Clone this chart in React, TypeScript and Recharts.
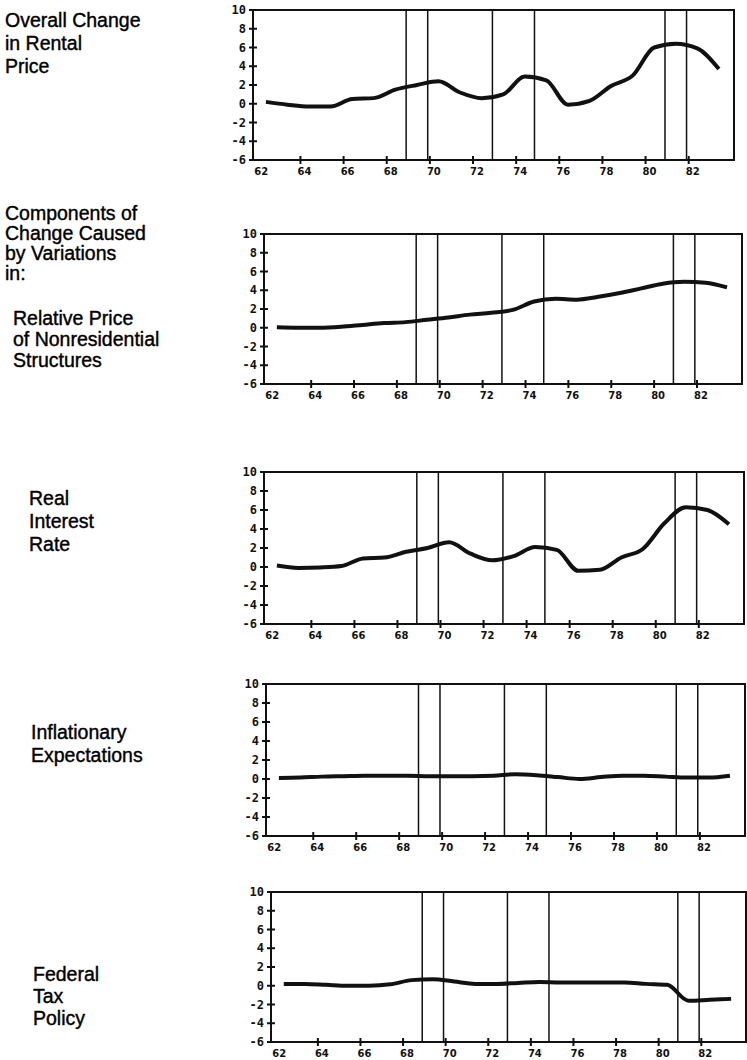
import React from 'react';
import { LineChart, Line, XAxis, YAxis, ReferenceLine, ReferenceArea } from 'recharts';

// mid-year points, 1962-1983
const years = [62.4, 63.4, 64.4, 65.4, 66.4, 67.4, 68.4, 69.4, 70.4, 71.4, 72.4, 73.4, 74.4, 75.4, 76.4, 77.4, 78.4, 79.4, 80.4, 81.4, 82.4, 83.4];

const overallChange = [0.2, -0.1, -0.3, -0.3, 0.5, 0.6, 1.5, 2.0, 2.4, 1.2, 0.6, 1.0, 2.9, 2.5, -0.1, 0.3, 1.9, 3.0, 6.0, 6.4, 5.9, 3.7];
const relativePrice = [0.05, 0.0, 0.0, 0.1, 0.3, 0.5, 0.6, 0.85, 1.1, 1.4, 1.6, 1.9, 2.8, 3.1, 3.0, 3.3, 3.7, 4.2, 4.7, 4.9, 4.8, 4.3];
const realInterest = [0.15, -0.1, -0.05, 0.1, 0.9, 1.0, 1.6, 2.0, 2.6, 1.4, 0.7, 1.15, 2.1, 1.8, -0.4, -0.3, 1.0, 1.9, 4.6, 6.3, 6.0, 4.5];
const inflationExpect = [0.1, 0.15, 0.25, 0.3, 0.35, 0.35, 0.35, 0.3, 0.3, 0.3, 0.35, 0.5, 0.4, 0.2, 0.0, 0.2, 0.35, 0.35, 0.25, 0.15, 0.15, 0.35];
const federalTax = [0.2, 0.2, 0.1, 0.0, 0.0, 0.15, 0.6, 0.7, 0.45, 0.2, 0.2, 0.3, 0.4, 0.35, 0.35, 0.35, 0.35, 0.2, 0.1, -1.6, -1.5, -1.4];

// vertical recession markers
const recessionLines = [68.9, 69.9, 72.9, 74.85, 80.9, 81.9];

const xTicks = [62, 64, 66, 68, 70, 72, 74, 76, 78, 80, 82];
const yTicks = [-6, -4, -2, 0, 2, 4, 6, 8, 10];

const X_DOMAIN: [number, number] = [61.8, 84.1];
const INK = '#111';

if (typeof document !== 'undefined') document.body.style.margin = '0';

const YTick = (props: any) => {
  const { x, y, payload } = props;
  // x = axis - 6
  return (
    <g>
      <line x1={x + 2} x2={x + 10} y1={y} y2={y} stroke={INK} strokeWidth={2} />
      <text x={x - 1} y={y} dy={4} textAnchor="end" fontFamily="DejaVu Sans Mono" fontWeight="bold" fontSize={12} fill={INK}>
        {payload.value}
      </text>
    </g>
  );
};

const XTick = (props: any) => {
  const { x, y, payload } = props;
  // y = axis + 4
  return (
    <g>
      {payload.value !== 62 && <line x1={x} x2={x} y1={y - 8} y2={y} stroke={INK} strokeWidth={2} />}
      <text x={x + 4} y={y} dy={11} textAnchor="middle" fontFamily="DejaVu Sans" fontWeight="bold" fontSize={10} fill={INK}>
        {payload.value}
      </text>
    </g>
  );
};

type Panel = { values: number[]; top: number; bottom: number; left: number; right: number };

const panels: Panel[] = [
  { values: overallChange, top: 10, bottom: 160, left: 253, right: 734 },
  { values: relativePrice, top: 234, bottom: 384, left: 264, right: 742 },
  { values: realInterest, top: 472, bottom: 624, left: 264, right: 744 },
  { values: inflationExpect, top: 684, bottom: 836, left: 266, right: 745 },
  { values: federalTax, top: 892, bottom: 1042, left: 271, right: 746 },
];

const labels = [
  { lines: ['Overall Change', 'in Rental', 'Price'], x: 5, y: 20, gap: 23 },
  { lines: ['Components of', 'Change Caused', 'by Variations', 'in:'], x: 5, y: 213, gap: 20 },
  { lines: ['Relative Price', 'of Nonresidential', 'Structures'], x: 13, y: 318, gap: 21 },
  { lines: ['Real', 'Interest', 'Rate'], x: 29, y: 498, gap: 23 },
  { lines: ['Inflationary', 'Expectations'], x: 31, y: 732, gap: 23 },
  { lines: ['Federal', 'Tax', 'Policy'], x: 33, y: 974, gap: 22 },
];

function PanelChart({ p }: { p: Panel }) {
  const data = years.map((year, i) => ({ year, v: p.values[i] }));
  const h = p.bottom - p.top + 6 + 22;
  return (
    <div style={{ position: 'absolute', left: 0, top: p.top - 6 }}>
      <LineChart width={747} height={h} data={data} margin={{ top: 6, right: 747 - p.right, bottom: 0, left: p.left - 40 }}>
        <XAxis
          type="number"
          dataKey="year"
          domain={X_DOMAIN}
          ticks={xTicks}
          interval={0}
          allowDataOverflow
          axisLine={false}
          tickLine={false}
          tickSize={0}
          tickMargin={4}
          height={22}
          tick={<XTick />}
        />
        <YAxis
          domain={[-6, 10]}
          ticks={yTicks}
          interval={0}
          allowDataOverflow
          axisLine={false}
          tickLine={false}
          tickSize={0}
          tickMargin={6}
          width={40}
          tick={<YTick />}
        />
        <ReferenceArea x1={X_DOMAIN[0]} x2={X_DOMAIN[1]} y1={-6} y2={10} fill="none" stroke={INK} strokeWidth={2} />
        {recessionLines.map((r) => (
          <ReferenceLine key={r} x={r} stroke={INK} strokeWidth={1.5} />
        ))}
        <Line type="monotone" dataKey="v" stroke={INK} strokeWidth={4} dot={false} isAnimationActive={false} />
      </LineChart>
    </div>
  );
}

export default function App() {
  return (
    <div style={{ position: 'relative', width: 747, height: 1060, background: '#fff', overflow: 'hidden' }}>
      {labels.map((l, i) =>
        l.lines.map((t, j) => (
          <div
            key={`${i}-${j}`}
            style={{
              position: 'absolute',
              left: l.x,
              top: l.y + j * l.gap - 11,
              fontFamily: '"Liberation Sans", Arial, sans-serif',
              fontSize: 19.5,
              lineHeight: '22px',
              color: '#000',
              WebkitTextStroke: '0.4px #000',
              whiteSpace: 'nowrap',
            }}
          >
            {t}
          </div>
        ))
      )}
      {panels.map((p, i) => (
        <PanelChart key={i} p={p} />
      ))}
    </div>
  );
}
